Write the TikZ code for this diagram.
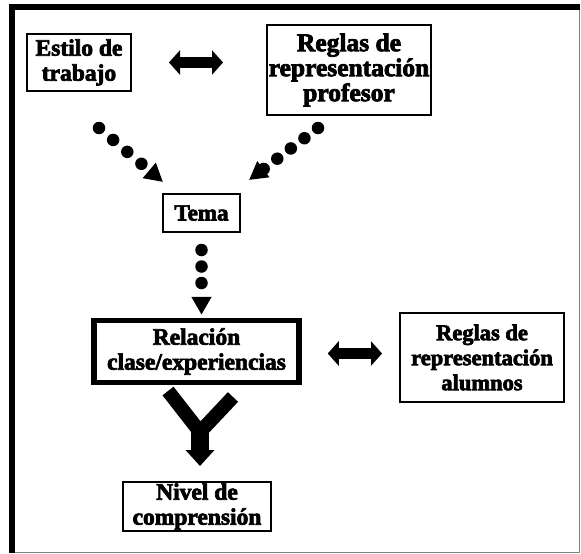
\documentclass[tikz,border=0pt]{standalone}
\usepackage{fontspec}
\newfontfamily\gruesa{Liberation Serif}[BoldFeatures={FakeBold=3}]
\usepackage{tikz}
\usetikzlibrary{arrows.meta,calc}

\begin{document}
\begin{tikzpicture}[x=1pt,y=-1pt,
		caja/.style={draw,line width=2pt,align=center,inner sep=0pt,font=\gruesa\bfseries\fontsize{23.5}{25}\selectfont},
		puntos/.style={line width=12.5pt,line cap=round,dash pattern=on 0pt off #1,-{Triangle[length=18pt,width=19pt]}},
		puntos/.default=18.5pt,
		doble/.style={line width=11pt,{Triangle[length=11pt,width=24pt]}-{Triangle[length=11pt,width=24pt]}}]
	\useasboundingbox (0,0) rectangle (581,554);
	% marco
	\fill (9,4) rectangle (580,10);
	\fill (9,4) rectangle (15,553);
	\draw[gray,line width=1pt] (579.5,10) -- (579.5,552.5) -- (15,552.5);
	% cajas
	\node[caja,minimum width=104pt,minimum height=57pt] (estilo) at (79,62.5) {Estilo de\\trabajo};
	\node[caja,minimum width=164pt,minimum height=90pt,font=\gruesa\bfseries\fontsize{25.5}{25}\selectfont] (prof) at (349,70) {Reglas de\\representación\\profesor};
	\node[caja,minimum width=77pt,minimum height=38pt,font=\gruesa\bfseries\fontsize{23}{24}\selectfont] (tema) at (201.5,213) {Tema};
	\node[caja,line width=5.5pt,minimum width=205pt,minimum height=62pt] (rel) at (196.5,351.5) {Relación\\clase/experiencias};
	\node[caja,minimum width=164pt,minimum height=89pt,font=\gruesa\bfseries\fontsize{22.5}{25}\selectfont] (alum) at (482,357.5) {Reglas de\\representación\\alumnos};
	\node[caja,minimum width=148pt,minimum height=49pt] (nivel) at (197,506.5) {Nivel de\\comprensión};
	% flechas dobles
	\draw[doble,shorten <=37pt,shorten >=43pt] (estilo.east) -- (estilo.east -| prof.west);
	\draw[doble,shorten <=26pt,shorten >=17pt] ([yshift=-2pt]rel.east) -- ([yshift=-2pt]rel.east -| alum.west);
	% flechas de puntos
	\coordinate (i1) at (99,128);
	\coordinate (i2) at (163,182);
	\coordinate (d1) at (318,128);
	\coordinate (d2) at (249,180);
	\draw[puntos] (i1) -- (i2);
	\draw[puntos=17pt] (d1) -- (d2);
	\draw[puntos=16.5pt,shorten <=17pt,shorten >=3pt] (tema.south) -- (tema.south |- rel.north);
	% Y hacia el nivel
	\coordinate (ya) at (168,391);
	\coordinate (yb) at (233,397);
	\coordinate (yj) at (200,432);
	\draw[line width=14pt] (ya) -- (yj) -- (yb);
	\draw[line width=18pt,-{Triangle[length=16pt,width=28pt]},shorten >=15pt] (yj) -- (yj |- nivel.north);
\end{tikzpicture}
\end{document}
